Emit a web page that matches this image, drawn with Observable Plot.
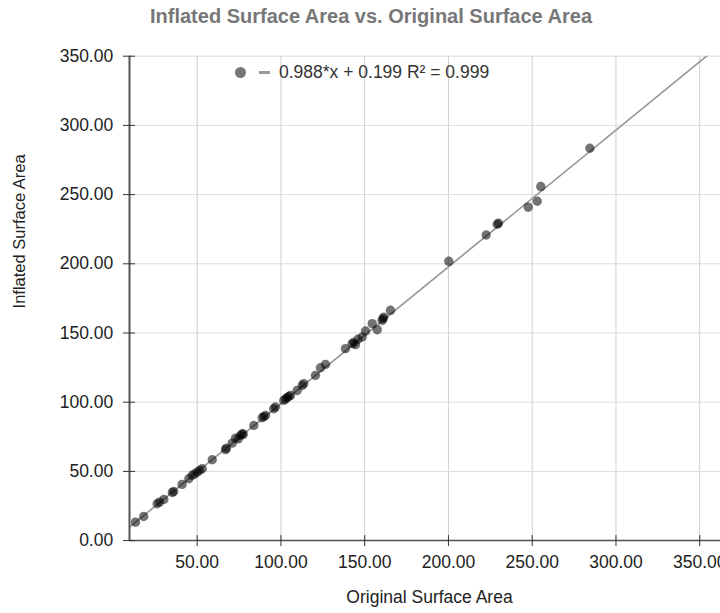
<!DOCTYPE html>
<html>
<head>
<meta charset="utf-8">
<script src="https://cdn.jsdelivr.net/npm/d3@7"></script>
<script src="https://cdn.jsdelivr.net/npm/@observablehq/plot@0.6"></script>
<style>
  html, body { margin: 0; padding: 0; background: #fff; overflow: hidden; }
  body { font-family: "Liberation Sans", Arial, Helvetica, sans-serif; }
  #wrap { position: relative; width: 720px; height: 613px; overflow: hidden; }
  #title { position: absolute; left: 0; top: 0; width: 742px; height: 33px; line-height: 33px;
           text-align: center; font-weight: bold; font-size: 20px; color: #777; }
  #chart { position: absolute; left: 0; top: 32px; }
  #legend { position: absolute; left: 235px; top: 60px; height: 24px; display: flex; align-items: center;
            font-size: 17.5px; color: #333; }
  #legend .dot { width: 11px; height: 11px; border-radius: 50%; background: #777; margin-right: 13px; }
  #legend .dash { width: 11px; height: 3px; background: #999; margin-right: 9px; }
</style>
</head>
<body>
<div id="wrap">
  <div id="title"></div>
  <div id="chart"></div>
  <div id="legend"><span class="dot"></span><span class="dash"></span><span id="legendText"></span></div>
</div>
<script>
// ---- Data ----
const titleText = "Inflated Surface Area vs. Original Surface Area";
const xLabel = "Original Surface Area";
const yLabel = "Inflated Surface Area";
const xTicks = [50, 100, 150, 200, 250, 300, 350];
const yTicks = [0, 50, 100, 150, 200, 250, 300, 350];
const xDomain = [9.6, 362.4];
const yDomain = [0, 350];
const slope = 0.988;
const intercept = 0.199;
const r2 = 0.999;

const originalArea = [
  13.2, 18.1, 26.1, 27.5, 30.1, 35.2, 36.0, 41.0, 45.0, 47.0, 48.5, 50.0, 51.5, 53.0, 59.0,
  66.9, 67.5, 70.9, 72.9, 74.5, 75.9, 76.9, 77.5, 83.8, 88.8, 89.8, 90.8, 95.7, 96.7,
  101.7, 102.7, 103.7, 104.7, 105.7, 109.7, 112.7, 113.6, 120.6, 123.6, 126.6,
  138.5, 142.5, 143.5, 144.5, 146.0, 148.5, 150.5, 154.5, 157.5, 160.4, 160.9, 161.4, 165.4,
  200.2, 222.5, 229.1, 229.9, 247.6, 253.0, 255.1, 284.4
];
const inflatedArea = [
  13.3, 17.4, 26.6, 27.8, 29.7, 34.8, 35.5, 40.6, 44.7, 47.1, 48.2, 49.5, 50.8, 51.9, 58.4,
  65.7, 66.8, 70.4, 74.0, 73.5, 76.0, 77.2, 76.8, 83.2, 88.8, 89.6, 90.5, 95.3, 96.5,
  101.3, 102.3, 103.3, 104.1, 104.9, 108.5, 112.1, 113.4, 119.4, 124.9, 127.3,
  138.7, 142.3, 143.2, 141.6, 145.5, 147.1, 151.4, 156.8, 152.4, 159.1, 160.3, 161.5, 166.4,
  201.8, 220.8, 228.6, 229.3, 240.9, 245.2, 255.8, 283.5
];

// ---- Build tables ----
const points = originalArea.map((x, i) => ({x, y: inflatedArea[i]}));
const trend = xDomain.map(x => ({x, y: slope * x + intercept}));
const fmt = d => d.toFixed(2);
const font = '"Liberation Sans", Arial, Helvetica, sans-serif';

document.getElementById("title").textContent = titleText;
document.getElementById("legendText").textContent =
  `${slope.toFixed(3)}*x + ${intercept.toFixed(3)} R² = ${r2.toFixed(3)}`;

const chart = Plot.plot({
  width: 720,
  height: 581,
  marginLeft: 129,
  marginRight: 0,
  marginTop: 23.7,
  marginBottom: 72.9,
  x: {domain: xDomain},
  y: {domain: yDomain},
  style: {fontFamily: font, fontSize: "17.5px", color: "#333", background: "#fff", overflow: "visible"},
  marks: [
    Plot.gridX(xTicks, {stroke: "#cfcfcf", strokeOpacity: 1, strokeWidth: 1}),
    Plot.gridY(yTicks, {stroke: "#dcdcdc", strokeOpacity: 1, strokeWidth: 1}),
    Plot.line(trend, {x: "x", y: "y", stroke: "#9a9a9a", strokeWidth: 1.7, clip: true}),
    Plot.dot(points, {x: "x", y: "y", r: 4.7, fill: "#000", fillOpacity: 0.55, stroke: "none"}),
    Plot.ruleY([yDomain[0]], {stroke: "#555", strokeWidth: 1.5}),
    Plot.ruleX([xDomain[0]], {stroke: "#555", strokeWidth: 2}),
    // outer ticks + labels
    Plot.axisX(xTicks, {anchor: "bottom", tickSize: 0, tickPadding: 15, tickFormat: fmt, label: null, fill: "#222"}),
    Plot.axisX(xTicks, {anchor: "bottom", tickSize: 11, dy: -5, tickFormat: () => "", label: null, stroke: "#333"}),
    Plot.axisY(yTicks, {anchor: "left", tickSize: 0, tickPadding: 16.3, tickFormat: fmt, label: null, fill: "#222"}),
    Plot.axisY(yTicks, {anchor: "left", tickSize: 12, dx: 6, tickFormat: () => "", label: null, stroke: "#333"}),
    Plot.text([xLabel], {frameAnchor: "bottom", text: d => d, dy: 62, dx: 4.5, fontSize: 17.5, fill: "#222"}),
    Plot.text([yLabel], {frameAnchor: "left", text: d => d, dx: -110, dy: 10, rotate: -90, fontSize: 16.5, fill: "#222"})
  ]
});
document.getElementById("chart").appendChild(chart);
</script>
</body>
</html>
